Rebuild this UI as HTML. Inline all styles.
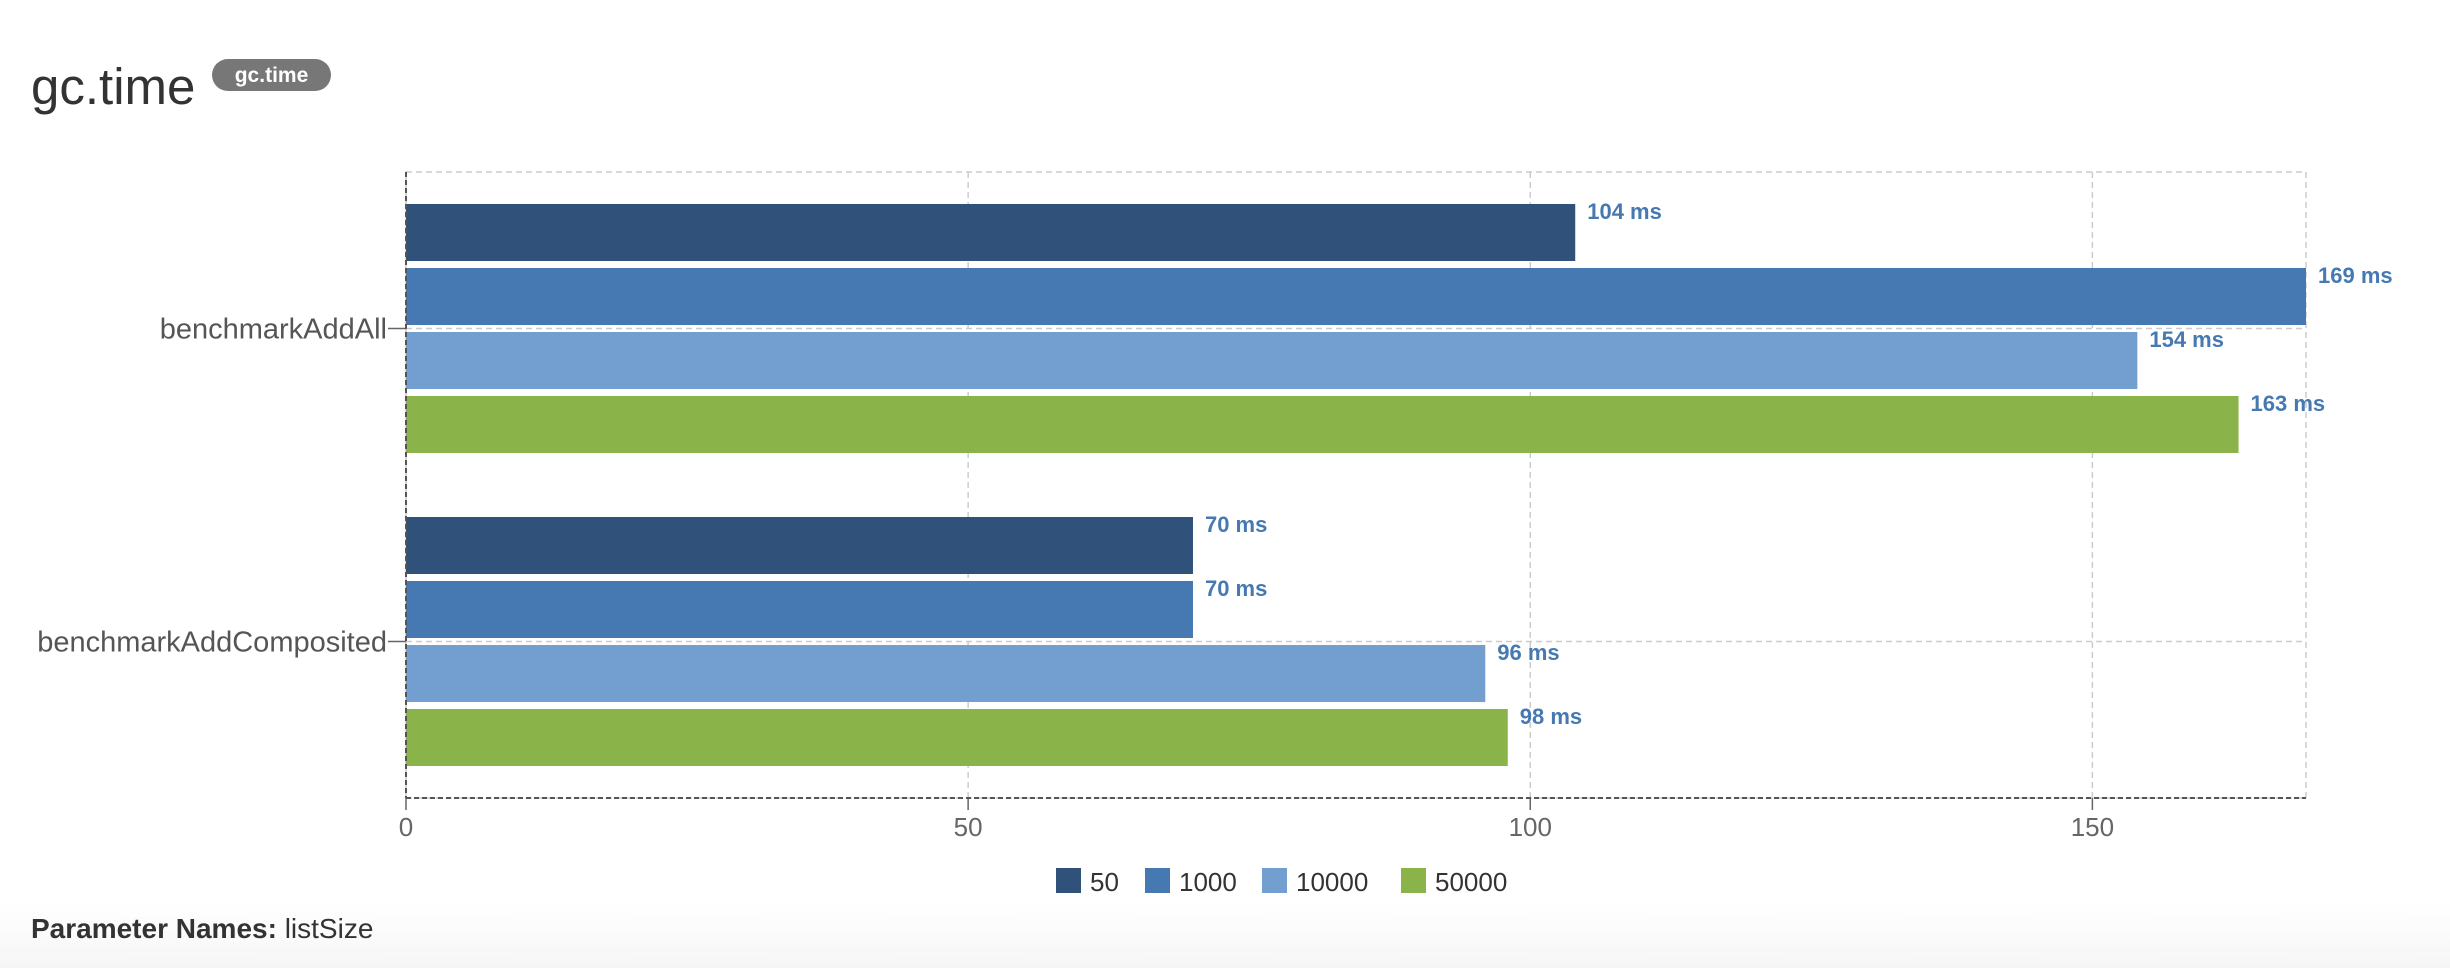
<!DOCTYPE html>
<html><head><meta charset="utf-8"><style>
html,body{margin:0;padding:0;width:2450px;height:968px;overflow:hidden;background:#fff;font-family:"Liberation Sans",Arial,sans-serif}
#bg{position:absolute;left:0;top:900px;width:2450px;height:68px;background:linear-gradient(#fff,#f6f6f6)}
</style></head><body>
<div id="bg"></div>
<svg id="chart" width="2450" height="968" style="position:absolute;left:0;top:0">
<text x="31" y="104" font-size="51" fill="#333">gc.time</text>
<rect x="212" y="59" width="119" height="32" rx="16" fill="#777"></rect>
<text x="271.5" y="82" font-size="21" font-weight="bold" fill="#fff" text-anchor="middle">gc.time</text>
<text x="31" y="938" font-size="28" fill="#333"><tspan font-weight="bold">Parameter Names:</tspan> listSize</text>
<g id="plot"></g>
</svg>
<script>
const categories = ["benchmarkAddAll", "benchmarkAddComposited"];
const seriesNames = ["50", "1000", "10000", "50000"];
const s50 = [104, 70];
const s1000 = [169, 70];
const s10000 = [154, 96];
const s50000 = [163, 98];
const xTicks = [0, 50, 100, 150];
const xMax = 169;

const series = [s50, s1000, s10000, s50000];
const colors = ["#30527a", "#4679b2", "#729fcf", "#8ab34a"];
const L = 406, R = 2306, T = 172, B = 798;
const NS = "http://www.w3.org/2000/svg";
const g = document.getElementById('plot');
function x(v){ return L + v / xMax * (R - L); }
const band = (B - T) / categories.length;
function yc(i){ return T + band * (i + 0.5); }
function mk(tag, attrs, parent){ const e = document.createElementNS(NS, tag); for (const k in attrs) e.setAttribute(k, attrs[k]); (parent||g).appendChild(e); return e; }

const gr = mk('rect', {x:L, y:T, width:R-L, height:B-T, fill:'none', stroke:'#ccc', 'stroke-width':1.5, 'stroke-dasharray':'6,4'});


xTicks.forEach(t => {
  const l = mk('line', {x1:x(t), x2:x(t), y1:T, y2:B, stroke:'#ccc', 'stroke-width':1.5, 'stroke-dasharray':'6,4'});
  
  
  const tk = mk('line', {x1:x(t), x2:x(t), y1:B, y2:B+12, stroke:'#666', 'stroke-width':1.5});
  
  
  const tx = mk('text', {x:x(t), y:B+38, 'font-size':26, fill:'#666', 'text-anchor':'middle'});
  tx.textContent = t;
  
  
});
categories.forEach((c, i) => {
  const l = mk('line', {x1:L, x2:R, y1:yc(i), y2:yc(i), stroke:'#ccc', 'stroke-width':1.5, 'stroke-dasharray':'6,4'});
  
  
});
const bh = 57, step = 64;
categories.forEach((c, i) => {
  const top = yc(i) - step * series.length / 2 + (step - bh) / 2;
  series.forEach((s, j) => {
    const y = top + j * step;
    const r = mk('rect', {x:L, y:y, width:x(s[i]) - L, height:bh, fill:colors[j]});
    
    
    const t = mk('text', {x:x(s[i]) + 12, y:y + 15, 'font-size':22, 'font-weight':'bold', fill:'#4679b2'});
    t.textContent = s[i] + ' ms';
    
    
  });
  const tk = mk('line', {x1:L-18, x2:L, y1:yc(i), y2:yc(i), stroke:'#666', 'stroke-width':1.5});
  
  
  const tx = mk('text', {x:L-19, y:yc(i)+10, 'font-size':29, fill:'#555', 'text-anchor':'end'});
  tx.textContent = c;
  
  
});
const ax = mk('line', {x1:L, x2:L, y1:T, y2:B, stroke:'#555', 'stroke-width':2, 'stroke-dasharray':'5,3'});


const bx = mk('line', {x1:L, x2:R, y1:B, y2:B, stroke:'#555', 'stroke-width':2, 'stroke-dasharray':'5,3'});


const legX = [1056, 1145, 1262, 1401];
seriesNames.forEach((n, j) => {
  const r = mk('rect', {x:legX[j], y:868, width:25, height:25, fill:colors[j]});
  
  
  const t = mk('text', {x:legX[j] + 34, y:891, 'font-size':26, fill:'#333'});
  t.textContent = n;
  
  
});
</script>
</body></html>
